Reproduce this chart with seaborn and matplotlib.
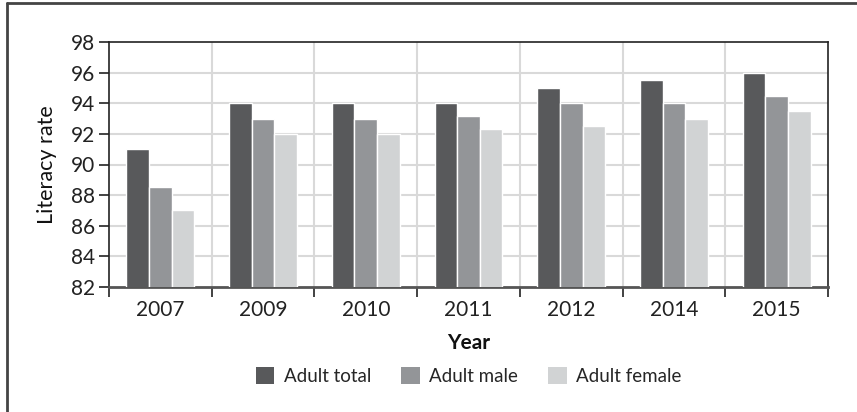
import matplotlib
matplotlib.use("Agg")
import matplotlib.pyplot as plt
import seaborn as sns
import pandas as pd
from matplotlib.patches import Rectangle
from matplotlib.lines import Line2D

years = ["2007", "2009", "2010", "2011", "2012", "2014", "2015"]
adult_total = [91.0, 94.0, 94.0, 94.0, 95.0, 95.5, 96.0]
adult_male = [88.5, 93.0, 93.0, 93.2, 94.0, 94.0, 94.5]
adult_female = [87.0, 92.0, 92.0, 92.3, 92.5, 93.0, 93.5]
series = ["Adult total", "Adult male", "Adult female"]
colors = ["#58595b", "#939598", "#d1d3d4"]
yticks = [82, 84, 86, 88, 90, 92, 94, 96, 98]

df = pd.DataFrame({
    "Year": years * 3,
    "rate": adult_total + adult_male + adult_female,
    "series": [series[0]] * 7 + [series[1]] * 7 + [series[2]] * 7,
})

sns.set_theme(style="white")
plt.rcParams["font.family"] = ["Lato", "DejaVu Sans"]

fig = plt.figure(figsize=(8.57, 4.12), dpi=100)
ax = fig.add_axes([109 / 857, 1 - 287 / 412, (828 - 109) / 857, (287 - 42) / 412])

sns.barplot(data=df, x="Year", y="rate", hue="series", palette=colors,
            width=0.66, gap=0, saturation=1, ax=ax, legend=True, zorder=3)

ax.set_ylim(82, 98)
ax.set_xlim(-0.5, len(years) - 0.5)
ax.set_yticks(yticks)
ax.set_yticklabels([str(t) for t in yticks], fontsize=15, color="#222222")
ax.set_xticks(range(len(years)))
ax.set_xticklabels(years, fontsize=15, color="#222222")
ax.tick_params(axis="x", length=0, pad=9)
ax.tick_params(axis="y", length=7, width=1.2, color="#222222", left=True, pad=3)
ax.set_xticks([k - 0.5 for k in range(len(years) + 1)], minor=True)
ax.tick_params(axis="x", which="minor", length=7, width=1.2, color="#222222", bottom=True)

ax.grid(False)
for k in range(1, len(years)):
    ax.axvline(k - 0.5, color="#d9d9d9", lw=1.5, zorder=1)
for t in yticks[1:-1]:
    ax.axhline(t, color="#d9d9d9", lw=1.5, zorder=1)

for s in ["left", "right", "top", "bottom"]:
    ax.spines[s].set_visible(True)
    ax.spines[s].set_color("#222222")
    ax.spines[s].set_linewidth(1.2)
ax.spines["bottom"].set_color("#555555")
ax.spines["bottom"].set_linewidth(2)

ax.set_ylabel("Literacy rate", fontsize=15.5, color="#111111")
ax.set_xlabel("Year", fontsize=15, fontweight="bold", color="#111111")
ax.yaxis.set_label_coords(-0.086, 0.5)
ax.xaxis.set_label_coords(0.5, -0.229)
ax.xaxis.label.set_va("center")
ax.yaxis.label.set_va("center")

ax.legend_.remove()
handles = [Rectangle((0, 0), 1, 1, facecolor=c, edgecolor="none") for c in colors]
fig.legend(handles, series, loc="center", bbox_to_anchor=(468.5 / 857, 1 - 376 / 412),
           ncol=3, frameon=False, fontsize=13.5, handlelength=1.0, handleheight=1.0,
           columnspacing=1.6, handletextpad=0.5)

fig.add_artist(Line2D([7 / 857, 7 / 857], [0, 1 - 3 / 412], transform=fig.transFigure,
                      color="#444444", lw=2))
fig.add_artist(Line2D([7 / 857, 1], [1 - 3 / 412, 1 - 3 / 412], transform=fig.transFigure,
                      color="#444444", lw=2))

fig.savefig("out.png", dpi=100)
